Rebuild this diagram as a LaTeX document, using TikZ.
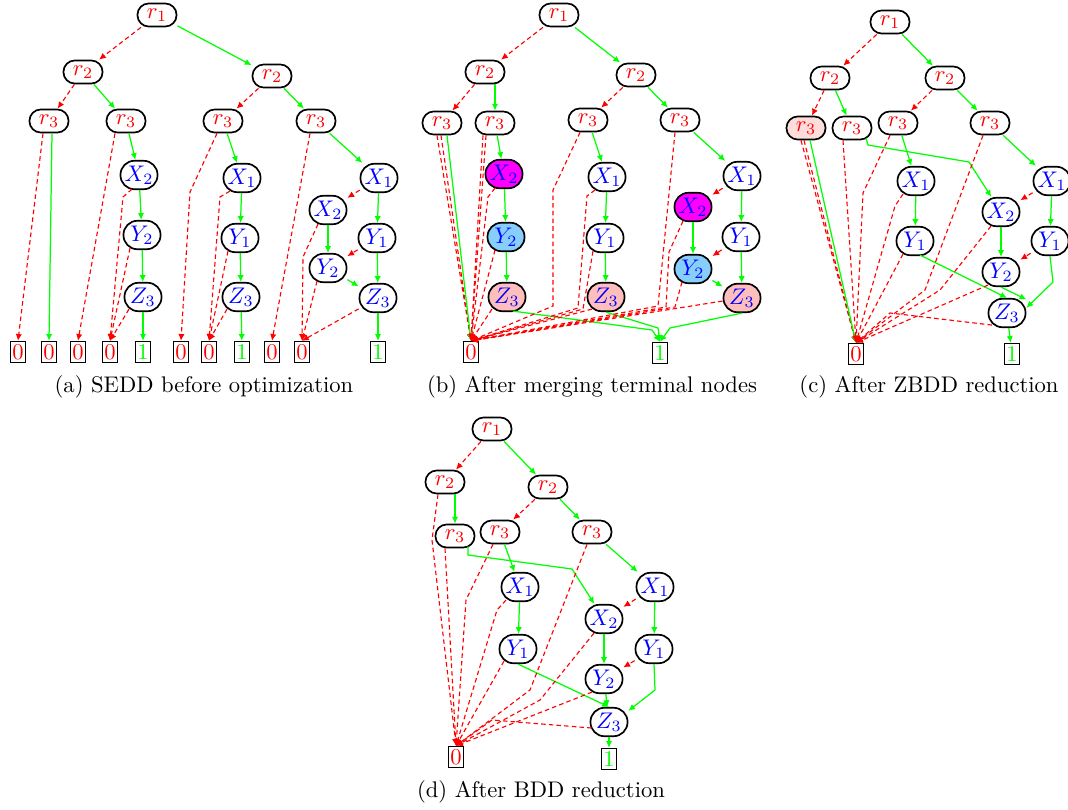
\documentclass[tikz,border=0pt]{standalone}
\usetikzlibrary{arrows.meta,calc}
\definecolor{ybl}{RGB}{135,206,250}
\definecolor{zpk}{RGB}{255,190,190}
\definecolor{rpk}{RGB}{255,220,220}
\definecolor{mgt}{RGB}{255,0,255}
\tikzset{
  rnode/.style={draw,line width=0.75pt,rectangle,rounded corners=5pt,minimum width=17.3pt,minimum height=10.2pt,inner sep=1pt,text=red},
  vnode/.style={draw,line width=0.75pt,rectangle,rounded corners=6.2pt,minimum width=16.4pt,minimum height=12.6pt,inner sep=1pt,text=blue},
  tnode/.style={draw,line width=0.6pt,rectangle,minimum width=6.6pt,minimum height=9.3pt,inner sep=0.5pt},
  zeroedge/.style={draw=red,line width=0.5pt,dash pattern=on 2pt off 1.4pt,-{Latex[length=3pt,width=2.8pt]}},
  oneedge/.style={draw=green,line width=0.55pt,-{Latex[length=3pt,width=2.8pt]}},
  capt/.style={anchor=base,inner sep=0pt}
}
\begin{document}
\begin{tikzpicture}[x=0.4425pt,y=-0.4425pt]
\useasboundingbox (0,0) rectangle (1068,810);

% ---------------- (a) SEDD before optimization ----------------
\node[rnode] (a-r1) at (157,15) {$r_1$};
\node[rnode] (a-r2l) at (83,72) {$r_2$};
\node[rnode] (a-r2r) at (272,76) {$r_2$};
\node[rnode] (a-r3a) at (49,121) {$r_3$};
\node[rnode] (a-r3b) at (126,121) {$r_3$};
\node[rnode] (a-r3c) at (223,121) {$r_3$};
\node[rnode] (a-r3d) at (316,121) {$r_3$};
\node[vnode] (a-x2b) at (139,175) {$X_2$};
\node[vnode] (a-y2b) at (142,235) {$Y_2$};
\node[vnode] (a-z3b) at (143,297) {$Z_3$};
\node[vnode] (a-x1c) at (242,178) {$X_1$};
\node[vnode] (a-y1c) at (240,238) {$Y_1$};
\node[vnode] (a-z3c) at (241,297) {$Z_3$};
\node[vnode] (a-x1d) at (379,178) {$X_1$};
\node[vnode] (a-x2d) at (328,210) {$X_2$};
\node[vnode] (a-y1d) at (377,238) {$Y_1$};
\node[vnode] (a-y2d) at (328,268) {$Y_2$};
\node[vnode] (a-z3d) at (378,298) {$Z_3$};
\node[tnode,text=red] (a-t1) at (18,352) {0};
\node[tnode,text=red] (a-t2) at (49,352) {0};
\node[tnode,text=red] (a-t3) at (78,352) {0};
\node[tnode,text=red] (a-t4) at (110,352) {0};
\node[tnode,text=green] (a-t5) at (143,352) {1};
\node[tnode,text=red] (a-t6) at (181,352) {0};
\node[tnode,text=red] (a-t7) at (209,352) {0};
\node[tnode,text=green] (a-t8) at (242,352) {1};
\node[tnode,text=red] (a-t9) at (272,352) {0};
\node[tnode,text=red] (a-t10) at (302,352) {0};
\node[tnode,text=green] (a-t11) at (378,352) {1};

\draw[zeroedge] (a-r1) -- (a-r2l);
\draw[oneedge] (a-r1) -- (a-r2r);
\draw[zeroedge] (a-r2l) -- (a-r3a);
\draw[oneedge] (a-r2l) -- (a-r3b);
\draw[zeroedge] (a-r2r) -- (a-r3c);
\draw[oneedge] (a-r2r) -- (a-r3d);
\draw[zeroedge] ($(a-r3a.south)+(-6,0)$) -- (a-t1.north);
\draw[oneedge] ($(a-r3a.south)+(3,0)$) -- (a-t2.north);
\draw[zeroedge] ($(a-r3b.south)+(-11,0)$) -- (a-t3.north);
\draw[oneedge] (a-r3b) -- (a-x2b);
\draw[zeroedge] ($(a-x2b.south)+(-7,-1)$) -- (123,197) -- (a-t4.north);
\draw[zeroedge] ($(a-y2b.south)+(-12,-2)$) -- (a-t4.north);
\draw[zeroedge] ($(a-z3b.south)+(-14,-3)$) -- (a-t4.north);
\draw[oneedge] (a-x2b) -- (a-y2b);
\draw[oneedge] (a-y2b) -- (a-z3b);
\draw[oneedge] (a-z3b) -- (a-t5);
\draw[zeroedge] ($(a-r3c.south)+(-6,0)$) -- (190,192) -- (a-t6.north);
\draw[oneedge] (a-r3c) -- (a-x1c);
\draw[zeroedge] ($(a-x1c.south)+(-12,-2)$) -- (220,197) -- (a-t7.north);
\draw[zeroedge] ($(a-y1c.south)+(-12,-2)$) -- (a-t7.north);
\draw[zeroedge] ($(a-z3c.south)+(-14,-3)$) -- (a-t7.north);
\draw[oneedge] (a-x1c) -- (a-y1c);
\draw[oneedge] (a-y1c) -- (a-z3c);
\draw[oneedge] (a-z3c) -- (a-t8);
\draw[zeroedge] ($(a-r3d.south)+(-6,0)$) -- (a-t9.north);
\draw[oneedge] (a-r3d) -- (a-x1d);
\draw[zeroedge] (a-x1d) -- (a-x2d);
\draw[oneedge] (a-x1d) -- (a-y1d);
\draw[zeroedge] ($(a-x2d.south)+(-10,-1)$) -- (303,257) -- (a-t10.north);
\draw[oneedge] (a-x2d) -- (a-y2d);
\draw[zeroedge] (a-y1d) -- (a-y2d);
\draw[oneedge] (a-y1d) -- (a-z3d);
\draw[zeroedge] ($(a-y2d.south)+(-11,-2)$) -- (a-t10.north);
\draw[oneedge] (a-y2d) -- (a-z3d);
\draw[zeroedge] (a-z3d) -- (a-t10.north);
\draw[oneedge] (a-z3d) -- (a-t11);
\node[capt] (a-cap) at (204,392) {(a) SEDD before optimization};

% ---------------- (b) After merging terminal nodes ----------------
\node[rnode] (b-r1) at (559,15) {$r_1$};
\node[rnode] (b-r2l) at (485,72) {$r_2$};
\node[rnode] (b-r2r) at (636,75) {$r_2$};
\node[rnode] (b-r3a) at (442,123) {$r_3$};
\node[rnode] (b-r3b) at (495,123) {$r_3$};
\node[rnode] (b-r3c) at (588,120) {$r_3$};
\node[rnode] (b-r3d) at (680,120) {$r_3$};
\node[vnode,fill=mgt] (b-x2b) at (504,174) {$X_2$};
\node[vnode,fill=ybl] (b-y2b) at (506,237) {$Y_2$};
\node[vnode,fill=zpk] (b-z3b) at (507,297) {$Z_3$};
\node[vnode] (b-x1c) at (607,177) {$X_1$};
\node[vnode] (b-y1c) at (605,238) {$Y_1$};
\node[vnode,fill=zpk] (b-z3c) at (606,297) {$Z_3$};
\node[vnode] (b-x1d) at (742,176) {$X_1$};
\node[vnode,fill=mgt] (b-x2d) at (693,207) {$X_2$};
\node[vnode] (b-y1d) at (741,237) {$Y_1$};
\node[vnode,fill=ybl] (b-y2d) at (693,269) {$Y_2$};
\node[vnode,fill=zpk] (b-z3d) at (742,298) {$Z_3$};
\node[tnode,text=red] (b-t0) at (471,352) {0};
\node[tnode,text=green] (b-t1) at (660,353) {1};

\draw[zeroedge] (b-r1) -- (b-r2l);
\draw[oneedge] (b-r1) -- (b-r2r);
\draw[zeroedge] (b-r2l) -- (b-r3a);
\draw[oneedge] (b-r2l.south -| b-r3b.north) -- (b-r3b.north);
\draw[zeroedge] (b-r2r) -- (b-r3c);
\draw[oneedge] (b-r2r) -- (b-r3d);
\draw[zeroedge] ($(b-r3a.south)+(-5,0)$) -- (b-t0.north);
\draw[zeroedge] ($(b-r3a.south)+(-1,0)$) -- (b-t0.north);
\draw[oneedge] ($(b-r3a.south)+(5,0)$) -- (b-t0.north);
\draw[zeroedge] ($(b-r3b.south)+(-12,0)$) -- (b-t0.north);
\draw[zeroedge] ($(b-r3b.south)+(-9,0)$) -- (b-t0.north);
\draw[oneedge] (b-r3b) -- (b-x2b);
\draw[zeroedge] ($(b-x2b.south)+(-9,-1)$) -- (488,197) -- (b-t0.north);
\draw[oneedge] (b-x2b) -- (b-y2b);
\draw[zeroedge] ($(b-y2b.south)+(-11,-2)$) -- (b-t0.north);
\draw[oneedge] (b-y2b) -- (b-z3b);
\draw[zeroedge] ($(b-z3b.south)+(-15,-3)$) -- (b-t0.north);
\draw[oneedge] ($(b-z3b.south)+(6,-1)$) -- (652,330) -- (b-t1.north);
\draw[zeroedge] ($(b-r3c.south)+(-8,0)$) -- (553,190) -- (553,306) -- (b-t0.north);
\draw[oneedge] (b-r3c) -- (b-x1c);
\draw[zeroedge] ($(b-x1c.south)+(-12,-2)$) -- (587,196) -- (578,308) -- (b-t0.north);
\draw[oneedge] (b-x1c) -- (b-y1c);
\draw[zeroedge] ($(b-y1c.south)+(-12,-2)$) -- (583,309) -- (b-t0.north);
\draw[oneedge] (b-y1c) -- (b-z3c);
\draw[zeroedge] ($(b-z3c.south)+(-14,-3)$) -- (b-t0.north);
\draw[oneedge] (b-z3c.south) -- (658,328) -- (b-t1.north);
\draw[zeroedge] ($(b-r3d.south)+(-5,0)$) -- (658,306) -- (b-t0.north);
\draw[oneedge] (b-r3d) -- (b-x1d);
\draw[zeroedge] (b-x1d) -- (b-x2d);
\draw[oneedge] (b-x1d) -- (b-y1d);
\draw[zeroedge] ($(b-x2d.south)+(-10,-1)$) -- (669,252) -- (666,307) -- (b-t0.north);
\draw[oneedge] (b-x2d) -- (b-y2d);
\draw[zeroedge] (b-y1d) -- (b-y2d);
\draw[oneedge] (b-y1d) -- (b-z3d);
\draw[zeroedge] ($(b-y2d.south)+(-11,-2)$) -- (675,307) -- (b-t0.north);
\draw[oneedge] (b-y2d) -- (b-z3d);
\draw[zeroedge] (b-z3d) -- (b-t0.north);
\draw[oneedge] (b-z3d.south) -- (670,328) -- (b-t1.north);
\node[capt] (b-cap) at (592,392) {(b) After merging terminal nodes};

% ---------------- (c) After ZBDD reduction ----------------
\node[rnode] (c-r1) at (890,22) {$r_1$};
\node[rnode] (c-r2l) at (830,78) {$r_2$};
\node[rnode] (c-r2r) at (945,78) {$r_2$};
\node[rnode,fill=rpk] (c-r3a) at (806,128) {$r_3$};
\node[rnode] (c-r3b) at (852,128) {$r_3$};
\node[rnode] (c-r3c) at (898,123) {$r_3$};
\node[rnode] (c-r3d) at (990,123) {$r_3$};
\node[vnode] (c-x1c) at (916,181) {$X_1$};
\node[vnode] (c-y1c) at (915,241) {$Y_1$};
\node[vnode] (c-x2) at (1001,212) {$X_2$};
\node[vnode] (c-y2) at (1001,272) {$Y_2$};
\node[vnode] (c-z3) at (1007,313) {$Z_3$};
\node[vnode] (c-x1d) at (1052,181) {$X_1$};
\node[vnode] (c-y1d) at (1050,241) {$Y_1$};
\node[tnode,text=red] (c-t0) at (856,354) {0};
\node[tnode,text=green] (c-t1) at (1012,354) {1};

\draw[zeroedge] (c-r1) -- (c-r2l);
\draw[oneedge] (c-r1) -- (c-r2r);
\draw[zeroedge] (c-r2l) -- (c-r3a);
\draw[oneedge] (c-r2l) -- (c-r3b);
\draw[zeroedge] (c-r2r) -- (c-r3c);
\draw[oneedge] (c-r2r) -- (c-r3d);
\draw[zeroedge] ($(c-r3a.south)+(-5,0)$) -- (c-t0.north);
\draw[zeroedge] ($(c-r3a.south)+(-2,0)$) -- (c-t0.north);
\draw[oneedge] ($(c-r3a.south)+(4,0)$) -- (c-t0.north);
\draw[zeroedge] ($(c-r3b.south)+(-9,0)$) -- (c-t0.north);
\draw[oneedge] ($(c-r3b.south)+(14,-2)$) -- (868,145) -- (969,162) -- (c-x2);
\draw[zeroedge] ($(c-r3c.south)+(-8,0)$) -- (863,193) -- (c-t0.north);
\draw[oneedge] (c-r3c) -- (c-x1c);
\draw[zeroedge] ($(c-x1c.south)+(-13,-2)$) -- (895,206) -- (c-t0.north);
\draw[oneedge] (c-x1c) -- (c-y1c);
\draw[zeroedge] ($(c-y1c.south)+(-12,-2)$) -- (c-t0.north);
\draw[oneedge] ($(c-y1c.south)+(5,-1)$) -- (c-z3.north);
\draw[zeroedge] ($(c-r3d.south)+(-7,0)$) -- (925,290) -- (c-t0.north);
\draw[oneedge] (c-r3d) -- (c-x1d);
\draw[zeroedge] (c-x1d) -- (c-x2);
\draw[oneedge] (c-x1d) -- (c-y1d);
\draw[zeroedge] ($(c-x2.south)+(-10,-1)$) -- (940,290) -- (c-t0.north);
\draw[oneedge] (c-x2) -- (c-y2);
\draw[zeroedge] (c-y1d) -- (c-y2);
\draw[oneedge] (c-y1d.south) -- (1053,282) -- (c-z3.15);
\draw[zeroedge] ($(c-y2.south)+(-13,-2)$) -- (c-t0.north);
\draw[oneedge] (c-y2.south) -- (c-z3.35);
\draw[zeroedge] ($(c-z3.south)+(-15,-3)$) -- (890,313) -- (c-t0.north);
\draw[oneedge] (c-z3) -- (c-t1);
\node[capt] (c-cap) at (929,392) {(c) After ZBDD reduction};

% ---------------- (d) After BDD reduction ----------------
\node[rnode] (d-r1) at (492,429) {$r_1$};
\node[rnode] (d-r2l) at (445,482) {$r_2$};
\node[rnode] (d-r2r) at (548,487) {$r_2$};
\node[rnode] (d-r3a) at (455,536) {$r_3$};
\node[rnode] (d-r3b) at (500,532) {$r_3$};
\node[rnode] (d-r3c) at (592,532) {$r_3$};
\node[vnode] (d-x1b) at (520,587) {$X_1$};
\node[vnode] (d-y1b) at (518,649) {$Y_1$};
\node[vnode] (d-x2) at (604,619) {$X_2$};
\node[vnode] (d-y2) at (604,679) {$Y_2$};
\node[vnode] (d-z3) at (609,722) {$Z_3$};
\node[vnode] (d-x1c) at (655,587) {$X_1$};
\node[vnode] (d-y1c) at (654,649) {$Y_1$};
\node[tnode,text=red] (d-t0) at (456,757) {0};
\node[tnode,text=green] (d-t1) at (609,759) {1};

\draw[zeroedge] (d-r1) -- (d-r2l);
\draw[oneedge] (d-r1) -- (d-r2r);
\draw[zeroedge] ($(d-r2l.south)+(-7,0)$) -- (432,540) -- (d-t0.north);
\draw[oneedge] (d-r2l.south -| d-r3a.north) -- (d-r3a.north);
\draw[zeroedge] (d-r2r) -- (d-r3b);
\draw[oneedge] (d-r2r) -- (d-r3c);
\draw[zeroedge] ($(d-r3a.south)+(-10,0)$) -- (d-t0.north);
\draw[oneedge] ($(d-r3a.south)+(13,-2)$) -- (468,555) -- (572,569) -- (d-x2);
\draw[zeroedge] ($(d-r3b.south)+(-7,0)$) -- (466,600) -- (d-t0.north);
\draw[oneedge] (d-r3b) -- (d-x1b);
\draw[zeroedge] ($(d-x1b.south)+(-14,-2)$) -- (497,610) -- (d-t0.north);
\draw[oneedge] (d-x1b) -- (d-y1b);
\draw[zeroedge] ($(d-y1b.south)+(-14,-3)$) -- (d-t0.north);
\draw[oneedge] (d-y1b.south) -- (d-z3.north);
\draw[zeroedge] ($(d-r3c.south)+(-5,0)$) -- (530,690) -- (d-t0.north);
\draw[oneedge] (d-r3c) -- (d-x1c);
\draw[zeroedge] (d-x1c) -- (d-x2);
\draw[oneedge] (d-x1c) -- (d-y1c);
\draw[zeroedge] ($(d-x2.south)+(-10,-1)$) -- (540,700) -- (d-t0.north);
\draw[oneedge] (d-x2) -- (d-y2);
\draw[zeroedge] (d-y1c) -- (d-y2);
\draw[oneedge] (d-y1c.south) -- (655,690) -- (d-z3.30);
\draw[zeroedge] ($(d-y2.south)+(-12,-2)$) -- (d-t0.north);
\draw[oneedge] (d-y2) -- (d-z3);
\draw[zeroedge] ($(d-z3.west)+(2,6)$) -- (492,720) -- (d-t0.north);
\draw[oneedge] (d-z3) -- (d-t1);
\node[capt] (d-cap) at (541,797) {(d) After BDD reduction};
\end{tikzpicture}
\end{document}
